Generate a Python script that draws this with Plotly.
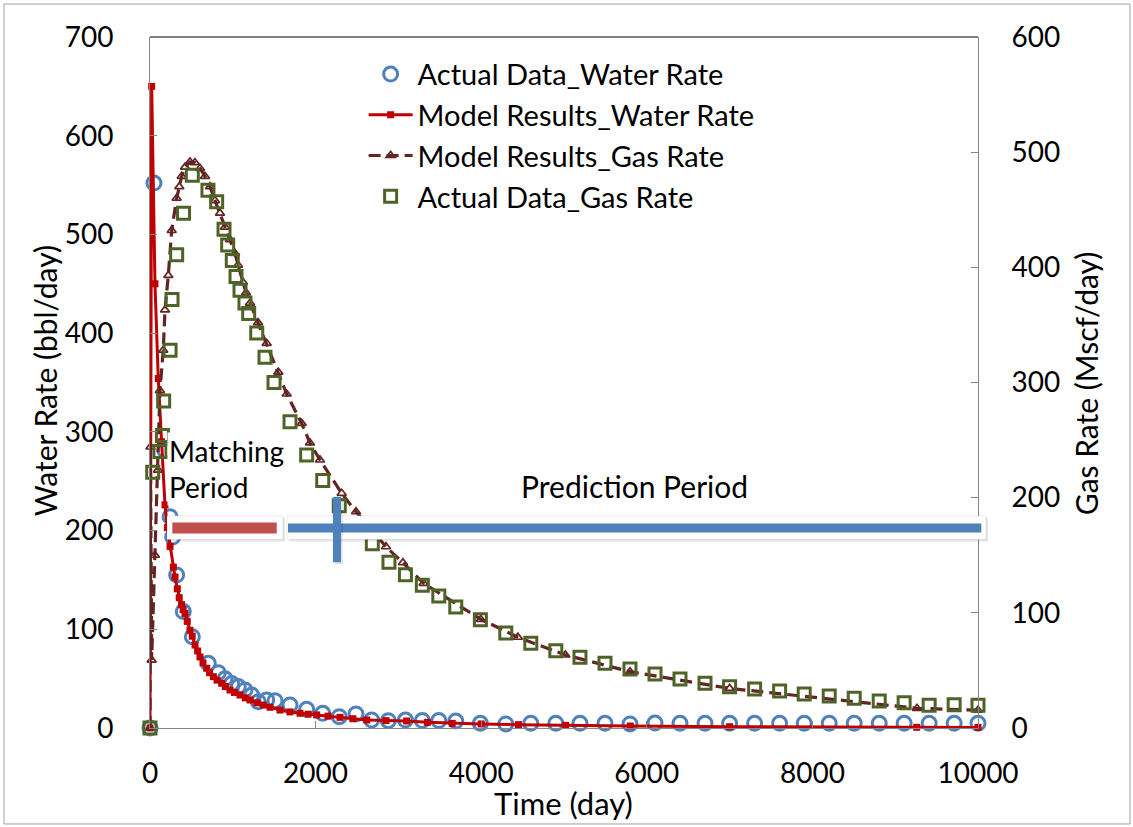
import plotly.graph_objects as go

# ---------------- data ----------------
# Actual Data_Water Rate (bbl/day)
aw_day = [0, 48, 181, 242, 274, 322, 402, 511, 704, 825, 906, 987, 1066, 1147, 1228,
          1308, 1409, 1510, 1691, 1892, 2086, 2286, 2488, 2677, 2878, 3085, 3289, 3488,
          3693, 3990, 4297, 4599, 4901, 5193, 5495, 5797, 6099, 6401, 6703, 7000, 7302,
          7604, 7901, 8203, 8505, 8807, 9108, 9410, 9712, 10000]
aw_val = [0, 552, 281, 214, 193.5, 155, 118, 92.5, 65.5, 56, 50, 45, 42, 38.5, 33.4,
          26.6, 28.4, 27.7, 23.3, 18.9, 14.9, 11.5, 14.2, 8.1, 7.4, 8.0, 7.5, 7.5,
          7.0, 4.7, 4.1, 4.7, 4.7, 4.7, 4.7, 4.1, 5.0, 4.7, 4.7, 4.7, 4.7,
          4.7, 4.7, 4.7, 4.7, 4.7, 4.7, 4.7, 4.7, 4.7]

# Model Results_Water Rate (bbl/day)
mw_day = [0, 20, 60, 100, 140, 181, 210, 242, 282, 302, 330, 353, 380, 400, 423, 450,
          483, 510, 544, 575, 604, 640, 685, 720, 765, 810, 866, 910, 966, 1020, 1087,
          1150, 1208, 1290, 1368, 1450, 1570, 1690, 1812, 1910, 2013, 2150, 2295, 2450,
          2617, 2850, 3100, 3350, 3650, 4000, 4450, 5020, 5800, 7000, 9260, 10000]
mw_val = [0, 650, 450, 354, 290, 226, 203, 184, 163, 153, 141, 132, 125, 120, 116, 108,
          99, 93, 84, 78, 72, 66, 60.5, 56, 52, 48.5, 45.3, 42, 38.5, 36, 33.4,
          30.5, 28.4, 25.5, 23.3, 21, 18.2, 16.3, 14.9, 14, 13.2, 12, 10.8, 9.4,
          8.1, 7.5, 7.1, 5.7, 4.7, 4.1, 3.4, 2.7, 2.0, 1.3, 0.7, 0.6]

# Model Results_Gas Rate (Mscf/day)
mg_day = [0, 5, 20, 60, 97, 120, 160, 181, 221, 262, 322, 354, 383, 423, 483, 543,
          604, 664, 725, 785, 845, 906, 966, 1027, 1063, 1123, 1160, 1208, 1305, 1409,
          1550, 1651, 1832, 1932, 2053, 2315, 2488, 2850, 3055, 3304, 3995, 4444, 5017,
          5797, 7000, 9263, 10000]
mg_val = [0, 244, 59, 150, 224, 293, 328, 363, 393, 432, 460, 470, 479, 487, 491.6, 491,
          486, 479, 470, 458, 447, 435, 424, 412, 402, 387, 378, 369, 352, 334,
          309, 290, 264.5, 247.5, 232.7, 203.8, 187.8, 157.4, 143.5, 125.6, 94.4, 78.8, 63.4,
          48.9, 34.4, 17.1, 15.5]

# Actual Data_Gas Rate (Mscf/day)
ag_day = [0, 33, 120, 150, 165, 242, 266, 322, 405, 511, 700, 805, 894, 938, 994, 1039,
          1087, 1147, 1192, 1289, 1389, 1498, 1691, 1892, 2086, 2286, 2488, 2685, 2886,
          3085, 3289, 3488, 3693, 3990, 4297, 4599, 4901, 5193, 5495, 5797, 6099, 6401,
          6703, 7000, 7302, 7604, 7901, 8203, 8505, 8807, 9108, 9410, 9712, 10000]
ag_val = [0, 222, 240, 254, 284, 328, 372, 411, 447, 480, 467, 457, 433, 419.5, 406, 392,
          380, 369, 360, 343, 322, 300, 266, 237, 215, 193, 176, 160, 144,
          133, 124, 114.6, 105, 94, 82.5, 73.5, 67, 61.4, 56.2, 51.2, 46.9, 42.5,
          38.8, 35.9, 33.9, 32.1, 29.5, 27.8, 25.8, 23.4, 22.0, 19.7, 20.2, 19.7]

x_range = [0, 10000]
x_ticks = [0, 2000, 4000, 6000, 8000, 10000]
x_ticktext = ["0", "2000", "4000", "6000", "8000", "10000"]
yl_ticks = [0, 100, 200, 300, 400, 500, 600, 700]
yr_ticks = [0, 100, 200, 300, 400, 500, 600]

# period markers (days / water-rate units)
match_start, match_end = 270, 1530
pred_start, pred_end = 1667, 10040
period_level = 202.6
split_day = 2258

FONT = "Lato"
C_AW = "#4F81BD"
C_MW = "#C00000"
C_MG = "#632523"
C_AG = "#4F6228"


def px(day):
    """day -> paper fraction along the x axis (so the shapes are not clipped)."""
    return (day - x_range[0]) / (x_range[1] - x_range[0])


fig = go.Figure()
fig.add_trace(go.Scatter(
    x=aw_day, y=aw_val, name="Actual Data_Water Rate", mode="markers",
    marker=dict(symbol="circle-open", size=14, color=C_AW, line=dict(width=3)),
    cliponaxis=False))
fig.add_trace(go.Scatter(
    x=mw_day, y=mw_val, name="Model Results_Water Rate", mode="lines+markers",
    line=dict(color=C_MW, width=3),
    marker=dict(symbol="square", size=7, color=C_MW),
    cliponaxis=False))
fig.add_trace(go.Scatter(
    x=mg_day, y=mg_val, name="Model Results_Gas Rate", mode="lines+markers",
    line=dict(color=C_MG, width=3.2, dash="12px,6px"),
    marker=dict(symbol="triangle-up-open", size=8, color=C_MG, line=dict(width=1.7)),
    yaxis="y2", cliponaxis=False))
fig.add_trace(go.Scatter(
    x=ag_day, y=ag_val, name="Actual Data_Gas Rate", mode="markers",
    marker=dict(symbol="square-open", size=12, color=C_AG, line=dict(width=3)),
    yaxis="y2", cliponaxis=False))


# period bars with white boxes
def box(x0, x1, y0, y1):
    fig.add_shape(type="rect", xref="paper", yref="y", x0=px(x0), x1=px(x1), y0=y0, y1=y1,
                  fillcolor="rgba(0,0,0,0.10)", line=dict(width=0), layer="above")
    fig.add_shape(type="rect", xref="paper", yref="y", x0=px(x0 - 25), x1=px(x1 - 25),
                  y0=y0 + 2, y1=y1 + 2,
                  fillcolor="white", line=dict(color="rgba(0,0,0,0.08)", width=1), layer="above")


box(230, 1630, 189, 213)
box(1680, 10120, 189, 213)
fig.add_shape(type="line", xref="paper", yref="y", x0=px(match_start), x1=px(match_end),
              y0=period_level, y1=period_level, line=dict(color="#C0504D", width=11), layer="above")
fig.add_shape(type="line", xref="paper", yref="y", x0=px(pred_start), x1=px(pred_end),
              y0=period_level, y1=period_level, line=dict(color=C_AW, width=9), layer="above")
fig.add_shape(type="line", xref="paper", yref="y", x0=px(split_day + 20), x1=px(split_day + 20),
              y0=166, y1=232, line=dict(color="rgba(0,0,0,0.12)", width=8), layer="above")
fig.add_shape(type="line", xref="paper", yref="y", x0=px(split_day), x1=px(split_day),
              y0=168, y1=234, line=dict(color=C_AW, width=8), layer="above")

# frame
fig.add_shape(type="line", xref="paper", yref="paper", x0=0, x1=1, y0=1, y1=1,
              line=dict(color="#000000", width=1))
fig.add_shape(type="rect", xref="paper", yref="paper",
              x0=-0.1763, x1=1.1836, y0=-0.1389, y1=1.0477,
              line=dict(color="#A0A0A0", width=1))

fig.add_annotation(x=210, y=262, xref="x", yref="y", xanchor="left", yanchor="middle",
                   text="Matching<br>Period", showarrow=False, align="left",
                   bgcolor="white", font=dict(family=FONT, size=28, color="black"))
fig.add_annotation(x=5850, y=245, xref="x", yref="y", xanchor="center", yanchor="middle",
                   text="Prediction Period", showarrow=False,
                   font=dict(family=FONT, size=30, color="black"))
fig.add_annotation(x=-0.1268, y=0.502, xref="paper", yref="paper", textangle=-90,
                   xanchor="center", yanchor="middle",
                   text="Water Rate (bbl/day)", showarrow=False,
                   font=dict(family=FONT, size=30, color="black"))
fig.add_annotation(x=1.1304, y=0.499, xref="paper", yref="paper", textangle=-90,
                   xanchor="center", yanchor="middle",
                   text="Gas Rate (Mscf/day)", showarrow=False,
                   font=dict(family=FONT, size=30, color="black"))
fig.add_annotation(x=0.4988, y=-0.1085, xref="paper", yref="paper",
                   xanchor="center", yanchor="middle",
                   text="Time (day)", showarrow=False,
                   font=dict(family=FONT, size=31, color="black"))

axis_common = dict(showgrid=False, zeroline=False, showline=True, linecolor="#868686",
                   linewidth=1, ticks="inside", tickcolor="#868686", ticklen=7,
                   tickfont=dict(family=FONT, size=28, color="black"))

fig.update_layout(
    width=1133, height=827,
    margin=dict(l=150, r=155, t=37, b=99, pad=0),
    paper_bgcolor="white", plot_bgcolor="white",
    showlegend=True,
    legend=dict(x=0.258, y=0.983, xanchor="left", yanchor="top",
                bgcolor="rgba(0,0,0,0)", font=dict(family=FONT, size=29, color="black"),
                itemwidth=44, tracegroupgap=0),
    xaxis=dict(range=x_range, tickvals=x_ticks, ticktext=x_ticktext,
               ticklabelstandoff=20, **axis_common),
    yaxis=dict(range=[0, 700], tickvals=yl_ticks, ticklabelstandoff=30, **axis_common),
    yaxis2=dict(range=[0, 600], tickvals=yr_ticks, overlaying="y", side="right",
                ticklabelstandoff=27, **axis_common),
)

fig.write_html("out.html")
